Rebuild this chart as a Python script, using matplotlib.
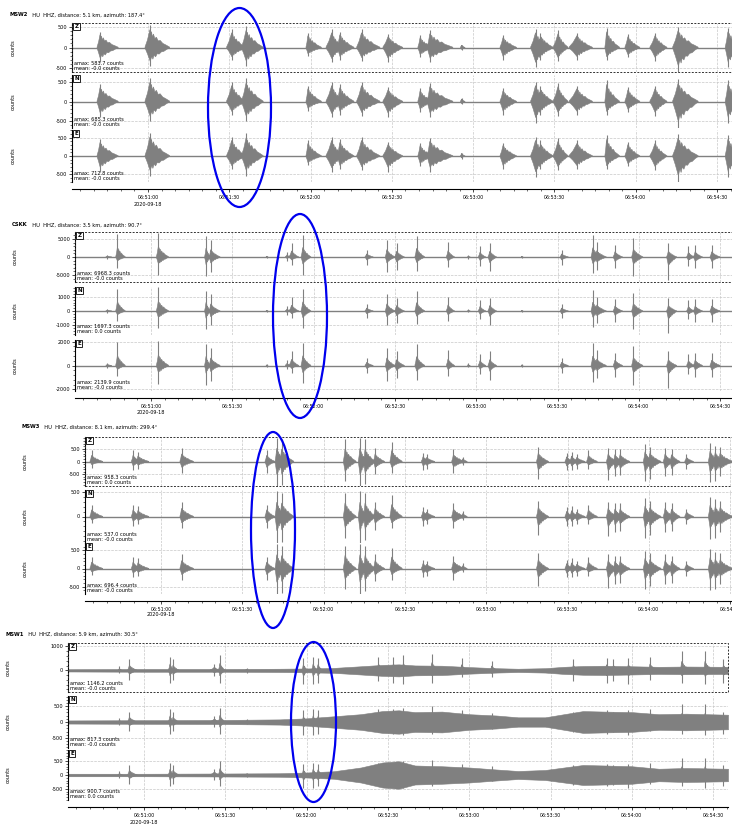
import matplotlib
matplotlib.use("Agg")
import matplotlib.pyplot as plt
from matplotlib.patches import Ellipse, Rectangle
from matplotlib.ticker import FixedLocator, MultipleLocator, AutoMinorLocator

W, H = 732, 827
GRAY = "#808080"

# time in seconds after 06:50:30
t_lo, t_hi = 2.0, 245.5
pxs = 2.71

stations = ["MSW2", "CSKK", "MSW3", "MSW1"]
headers = ["  HU  HHZ, distance: 5.1 km, azimuth: 187.4°",
           "  HU  HHZ, distance: 3.5 km, azimuth: 90.7°",
           "  HU  HHZ, distance: 8.1 km, azimuth: 299.4°",
           "  HU  HHZ, distance: 5.9 km, azimuth: 30.5°"]
comps = ["Z", "N", "E"]
amax = [[583.7, 685.3, 712.8], [6968.3, 1697.3, 2139.9],
        [958.3, 537.0, 696.4], [1146.2, 817.3, 900.7]]
means = [["-0.0", "-0.0", "-0.0"], ["-0.0", "0.0", "-0.0"],
         ["0.0", "-0.0", "-0.0"], ["-0.0", "-0.0", "0.0"]]
yticks = [[[-500, 0, 500]] * 3,
          [[-5000, 0, 5000], [-1000, 0, 1000], [-2000, 0, 2000]],
          [[-500, 0, 500], [0, 500], [-500, 0, 500]],
          [[0, 1000], [-500, 0, 500], [-500, 0, 500]]]
ybottom = [[None] * 3, [None] * 3, [None] * 3, [-905, None, None]]

# bursts per station: onset, peak, end (s), peak up / down (fraction of amax)
msw2_start = [11.2, 28.9, 59.0, 64.5, 88.3, 95.7, 99.8, 107.0, 116.7, 129.6, 133.0, 145.3, 159.9, 171.2, 174.0,
              179.5, 185.4, 198.6, 206.0, 215.2, 223.6, 243.0]
msw2_peak = [12.3, 30.7, 60.9, 66.2, 89.0, 97.8, 100.8, 108.8, 118.6, 130.4, 134.0, 145.7, 161.0, 173.0, 174.8,
             181.3, 188.3, 199.2, 207.1, 217.1, 225.6, 244.0]
msw2_end = [19.0, 38.0, 66.0, 72.5, 94.0, 102.0, 106.0, 115.6, 124.0, 135.0, 142.5, 147.0, 166.0, 178.0, 179.5,
            185.0, 194.0, 204.0, 211.5, 221.5, 233.0, 250.0]
msw2_up = [0.65, 0.9, 0.75, 0.87, 0.6, 0.75, 0.65, 0.75, 0.55, 0.5, 0.7, 0.12, 0.5, 0.75, 0.6,
           0.7, 0.6, 0.8, 0.55, 0.6, 0.85, 0.8]
msw2_down = [0.6, 0.75, 0.5, 0.75, 0.35, 0.6, 0.5, 0.55, 0.6, 0.4, 0.6, 0.1, 0.5, 0.8, 0.5,
             0.55, 0.5, 0.5, 0.4, 0.55, 1.0, 0.8]

cskk_start = [13.4, 17.0, 32.0, 49.8, 51.5, 72.5, 79.6, 81.0, 85.4, 109.0, 116.5, 120.0, 127.4, 139.0, 146.9,
              150.8, 154.4, 166.7, 181.0, 192.4, 193.9, 200.6, 207.4, 220.3, 227.7, 230.2, 236.3]
cskk_peak = [13.9, 17.6, 32.7, 50.3, 52.0, 72.7, 80.2, 81.9, 86.0, 109.6, 117.0, 120.6, 128.0, 139.6, 147.0,
             151.4, 155.0, 166.8, 181.5, 193.0, 194.5, 201.2, 208.0, 220.9, 228.3, 230.8, 236.9]
cskk_end = [15.5, 20.5, 36.5, 52.0, 55.5, 73.2, 81.5, 84.5, 89.0, 112.0, 120.0, 123.5, 131.0, 142.0, 147.8,
            153.5, 157.5, 167.3, 184.0, 196.0, 198.0, 204.0, 211.5, 224.0, 230.5, 233.5, 240.0]
cskk_up = [0.1, 0.93, 0.98, 0.84, 0.7, 0.05, 0.2, 0.58, 0.9, 0.3, 0.7, 0.55, 0.83, 0.6, 0.08,
           0.45, 0.55, 0.05, 0.3, 0.87, 0.6, 0.5, 0.75, 0.55, 0.45, 0.5, 0.5]
cskk_down = [0.08, 0.42, 0.72, 0.75, 0.6, 0.04, 0.15, 0.3, 0.7, 0.3, 0.6, 0.5, 0.55, 0.4, 0.06,
             0.35, 0.57, 0.04, 0.3, 0.65, 0.5, 0.45, 0.76, 0.9, 0.35, 0.45, 0.45]

msw3_start = [3.8, 19.1, 20.9, 37.0, 68.4, 72.1, 73.9, 97.3, 102.8, 104.7, 108.4, 114.5, 126.1, 127.4, 137.3,
              140.8, 168.6, 179.1, 180.9, 182.8, 187.1, 194.4, 196.9, 198.8, 208.0, 209.8, 215.4, 217.8, 223.3,
              232.0, 233.9, 235.7]
msw3_peak = [4.4, 19.7, 21.5, 37.6, 69.0, 72.7, 74.5, 97.9, 103.4, 105.3, 109.0, 115.1, 126.7, 128.0, 137.9,
             141.4, 169.2, 179.7, 181.5, 183.4, 187.7, 195.0, 197.5, 199.4, 208.6, 210.4, 216.0, 218.4, 223.9,
             232.6, 234.5, 236.3]
msw3_end = [8.5, 22.5, 25.5, 42.0, 72.0, 76.0, 79.0, 102.0, 106.0, 109.0, 112.5, 119.0, 129.5, 131.0, 142.0,
            143.0, 173.0, 182.0, 184.0, 186.5, 191.0, 198.0, 200.5, 203.0, 211.5, 214.5, 219.0, 221.5, 226.5,
            236.0, 238.0, 241.0]
msw3_up = [0.45, 0.45, 0.4, 0.55, 0.45, 0.95, 0.9, 0.9, 0.95, 0.9, 0.55, 0.8, 0.35, 0.3, 0.5,
           0.2, 0.6, 0.35, 0.4, 0.3, 0.45, 0.55, 0.5, 0.5, 0.7, 0.6, 0.55, 0.5, 0.3,
           0.75, 0.65, 0.6]
msw3_down = [0.25, 0.35, 0.3, 0.45, 0.45, 1.0, 0.95, 0.8, 1.0, 0.9, 0.5, 0.45, 0.35, 0.3, 0.45,
             0.15, 0.7, 0.35, 0.35, 0.3, 0.3, 0.75, 0.6, 0.55, 0.8, 0.7, 0.6, 0.55, 0.3,
             0.85, 0.8, 0.6]

msw1_start = [20.5, 24.0, 39.0, 40.3, 54.4, 57.5, 67.5, 88.3, 91.9, 93.7, 116.0, 121.4, 125.1, 135.7, 146.7,
              157.8, 187.9, 200.2, 202.7, 208.2, 216.2, 227.9, 236.5, 243.3]
msw1_peak = [20.9, 24.6, 39.6, 40.7, 56.0, 58.0, 67.9, 88.8, 92.4, 94.2, 116.5, 122.0, 125.7, 136.2, 147.2,
             158.3, 188.4, 200.7, 203.2, 208.7, 216.7, 228.4, 237.0, 243.8]
msw1_end = [22.0, 27.5, 41.0, 43.0, 58.0, 60.0, 68.8, 90.5, 94.0, 96.0, 119.0, 125.0, 128.5, 139.0, 149.5,
            160.5, 191.0, 202.7, 206.0, 211.5, 219.5, 231.5, 240.0, 246.0]
msw1_up = [0.15, 0.4, 0.5, 0.4, 0.25, 0.55, 0.1, 0.45, 0.5, 0.45, 0.5, 0.5, 0.55, 0.6, 0.45,
           0.35, 0.4, 0.45, 0.4, 0.45, 0.5, 0.7, 0.7, 0.4]
msw1_down = [0.1, 0.35, 0.45, 0.35, 0.2, 0.45, 0.08, 0.5, 0.5, 0.45, 0.4, 0.45, 0.5, 0.45, 0.25,
             0.25, 0.4, 0.45, 0.4, 0.5, 0.35, 0.45, 0.5, 0.45]

# background noise level for MSW1 (fraction of amax)
msw1_noise_t = [2, 30, 60, 80, 90, 100, 110, 118, 124, 130, 140, 150, 160, 168, 178, 185, 192, 200, 210,
                220, 230, 245.5]
msw1_noise_z = [0.04, 0.05, 0.05, 0.06, 0.07, 0.09, 0.15, 0.2, 0.22, 0.18, 0.17, 0.12, 0.08, 0.06, 0.08,
                0.13, 0.16, 0.17, 0.15, 0.13, 0.14, 0.13]
msw1_noise_n = [0.06, 0.07, 0.08, 0.1, 0.14, 0.22, 0.3, 0.42, 0.45, 0.38, 0.4, 0.3, 0.25, 0.18, 0.18,
                0.3, 0.42, 0.4, 0.38, 0.3, 0.32, 0.28]
msw1_noise_e = [0.05, 0.05, 0.06, 0.07, 0.1, 0.15, 0.3, 0.5, 0.55, 0.38, 0.35, 0.3, 0.22, 0.16, 0.2,
                0.3, 0.4, 0.38, 0.35, 0.25, 0.28, 0.25]

bursts = [(msw2_start, msw2_peak, msw2_end, msw2_up, msw2_down),
          (cskk_start, cskk_peak, cskk_end, cskk_up, cskk_down),
          (msw3_start, msw3_peak, msw3_end, msw3_up, msw3_down),
          (msw1_start, msw1_peak, msw1_end, msw1_up, msw1_down)]
body = [0.85, 0.45, 0.6, 0.5]
noise = [None, None, None, [msw1_noise_z, msw1_noise_n, msw1_noise_e]]

# jagged coda outline (position along the coda, relative height)
f_up = [0.0, 0.04, 0.08, 0.13, 0.18, 0.25, 0.33, 0.42, 0.52, 0.65, 0.8, 1.0]
m_up = [0.95, 0.62, 0.85, 0.55, 0.72, 0.48, 0.55, 0.35, 0.38, 0.22, 0.14, 0.02]
f_dn = [0.02, 0.06, 0.11, 0.15, 0.21, 0.29, 0.37, 0.47, 0.58, 0.7, 0.85, 1.0]
m_dn = [0.9, 0.7, 0.6, 0.75, 0.5, 0.6, 0.4, 0.42, 0.28, 0.25, 0.12, 0.02]

# layout in pixels
x051 = [148, 151, 161, 144]
title_pos = [(10, 15), (12, 225), (22, 427), (5, 634)]
axes_rows = [[(23, 72), (75, 128), (130, 182)],
             [(232, 282), (287, 335), (340, 391)],
             [(437, 486), (490, 543), (543, 594)],
             [(643, 692), (696, 748), (750, 800)]]
ylab_x = [13, 15, 25, 8]
date_y = [205, 412, 614, 822]

ellipses = [(239.5, 107.5, 63, 199), (300, 316, 54, 204), (273, 530, 44, 196), (313.5, 722, 45, 160)]


def tlabel(t):
    s = 50 * 60 + 30 + int(t)
    return "06:%02d:%02d" % (s // 60, s % 60)


fig = plt.figure(figsize=(W / 100, H / 100), dpi=100)
renderer = fig.canvas.get_renderer()

for p in range(4):
    left = x051[p] - (30 - t_lo) * pxs
    width = (t_hi - t_lo) * pxs
    st, pk, en, up, dn = bursts[p]
    b = body[p]
    for c in range(3):
        top, bot = axes_rows[p][c]
        ax = fig.add_axes([left / W, 1 - bot / H, width / W, (bot - top) / H])
        A = amax[p][c]
        lo = ybottom[p][c] if ybottom[p][c] is not None else -A
        ax.set_xlim(t_lo, t_hi)
        ax.set_ylim(lo, A)

        ax.axhline(0, color=GRAY, lw=1.0, zorder=2)
        if noise[p] is not None:
            lv = [v * A for v in noise[p][c]]
            ax.fill_between(msw1_noise_t, [-v for v in lv], lv, color=GRAY, lw=0.4, zorder=2)
        for i in range(len(pk)):
            d = en[i] - pk[i]
            u = up[i] * A
            w = dn[i] * A
            mid = (st[i] + pk[i]) / 2
            xu = [st[i], mid] + [pk[i] + f * d for f in f_up]
            yu = [0.02 * A, 0.4 * b * u] + [m * b * u for m in m_up]
            xd = [st[i], mid] + [pk[i] + f * d for f in f_dn]
            yd = [0.02 * A, 0.4 * b * w] + [m * b * w for m in m_dn]
            ax.fill(xu + xd[::-1], yu + [-v for v in yd[::-1]], color=GRAY, lw=0.4, zorder=3)
            ax.vlines(pk[i], -w, u, color=GRAY, lw=0.8, zorder=3)

        ax.yaxis.set_major_locator(FixedLocator(yticks[p][c]))
        ax.yaxis.set_minor_locator(AutoMinorLocator(5))
        ax.xaxis.set_major_locator(MultipleLocator(30))
        ax.xaxis.set_minor_locator(MultipleLocator(5))
        ax.grid(True, which="major", ls="--", color="#c8c8c8", lw=0.5)
        ax.tick_params(axis="y", labelsize=3.6, length=2.5, width=0.5, pad=1)
        ax.tick_params(axis="y", which="minor", length=1.3, width=0.4)
        ax.set_yticklabels([str(v) for v in yticks[p][c]])
        for s in ["top", "right"]:
            ax.spines[s].set_visible(False)
        ax.spines["left"].set_linewidth(0.8)
        if c < 2:
            ax.spines["bottom"].set_visible(False)
            ax.tick_params(axis="x", which="both", bottom=False, labelbottom=False)
        else:
            ax.spines["bottom"].set_position(("outward", 5))
            ax.spines["bottom"].set_linewidth(0.8)
            ax.tick_params(axis="x", labelsize=3.4, length=2.5, width=0.5, pad=2)
            ax.tick_params(axis="x", which="minor", length=1.5, width=0.4)
            ax.set_xticks(list(range(30, 241, 30)))
            ax.set_xticklabels([tlabel(t) for t in range(30, 241, 30)])
        if c == 0:
            ax.add_patch(Rectangle((0, 0), 1, 1, transform=ax.transAxes, fill=False, ls=(0, (2, 1.5)),
                                   lw=0.7, ec="#333333", clip_on=False, zorder=5))
        ax.text(2.8, A * 0.96, comps[c], fontsize=4.0, weight="bold", va="top", ha="left", zorder=6,
                bbox=dict(boxstyle="square,pad=0.25", fc="white", ec="black", lw=0.6))
        ax.text(0.003, 0.02, "amax: %.1f counts\nmean: %s counts" % (A, means[p][c]), transform=ax.transAxes,
                fontsize=3.6, va="bottom", ha="left", linespacing=1.0, zorder=6)
        fig.text(ylab_x[p] / W, 1 - (top + bot) / 2 / H, "counts", rotation=90, fontsize=3.6,
                 ha="center", va="center")

    tx, ty = title_pos[p]
    t1 = fig.text(tx / W, 1 - ty / H, stations[p], fontsize=3.8, weight="bold", va="center", ha="left")
    bb = t1.get_window_extent(renderer)
    fig.text((bb.x1 + 1) / W, 1 - ty / H, headers[p], fontsize=3.7, va="center", ha="left")
    fig.text(x051[p] / W, 1 - date_y[p] / H, "2020-09-18", fontsize=3.5, va="center", ha="center")

for cx, cy, ew, eh in ellipses:
    fig.add_artist(Ellipse((cx / W, 1 - cy / H), ew / W, eh / H, transform=fig.transFigure,
                           fill=False, ec="#0000ee", lw=1.6, zorder=10))

fig.savefig("out.png", dpi=100)
